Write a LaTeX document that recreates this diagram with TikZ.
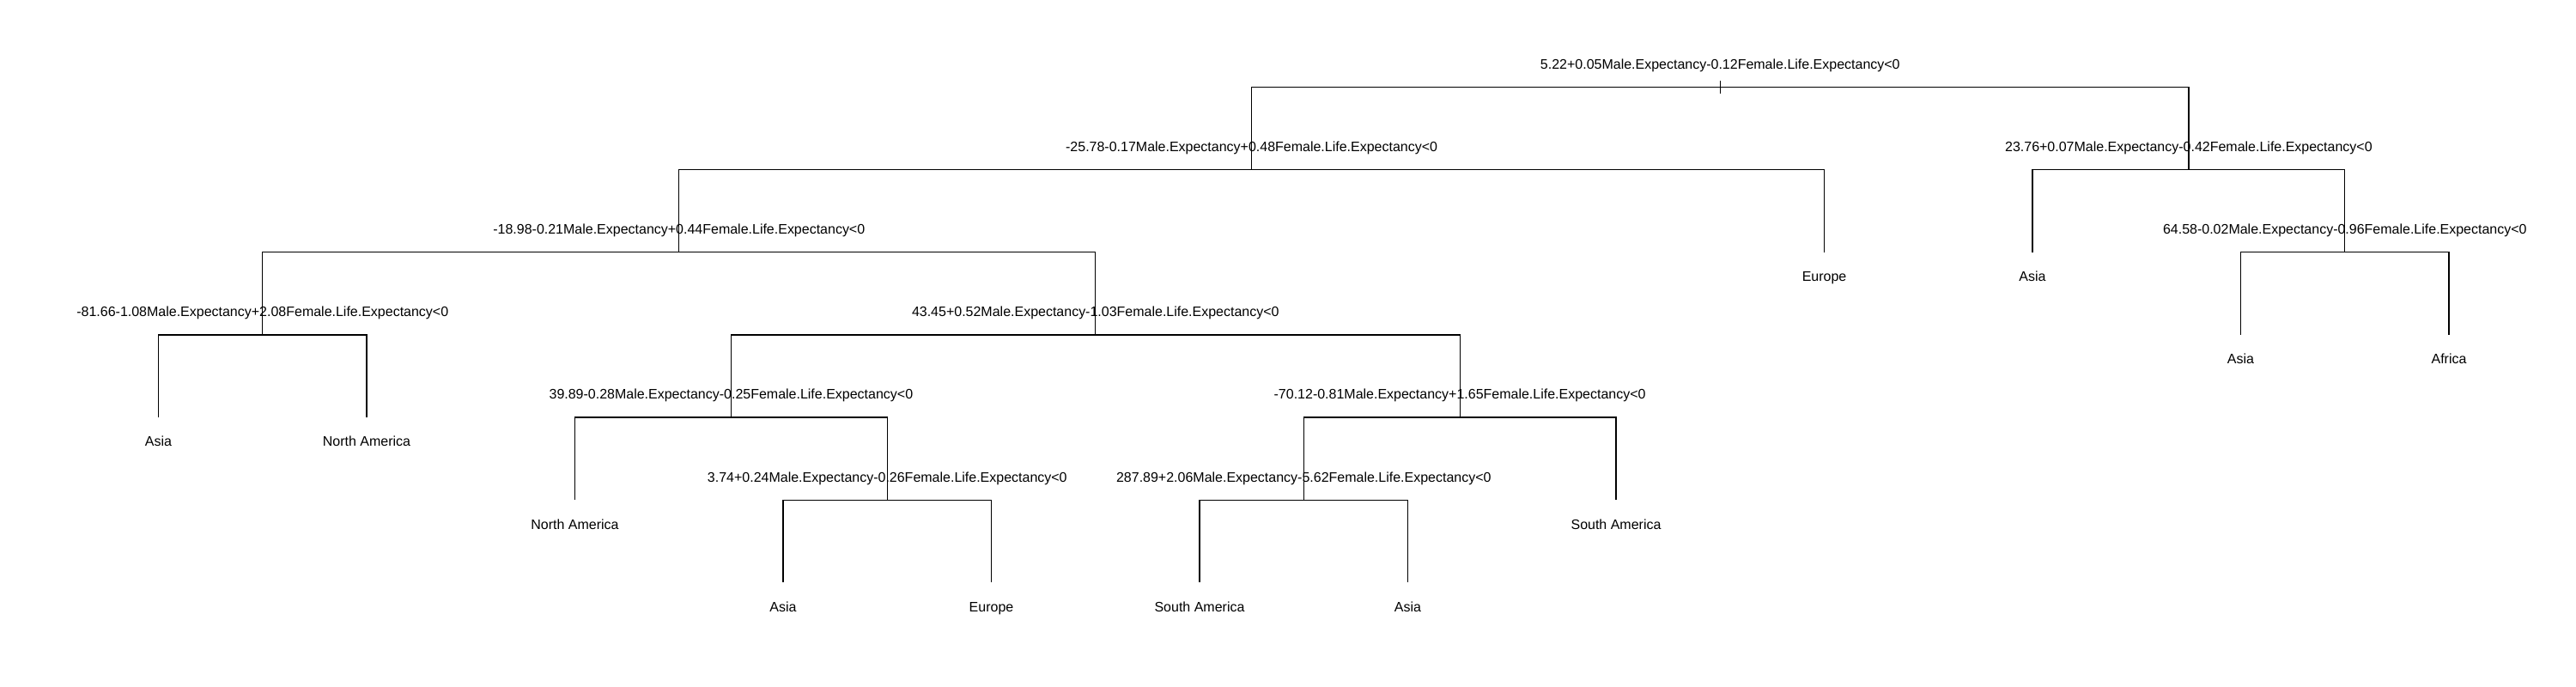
\documentclass[tikz,border=0pt]{standalone}
\usepackage{fontspec}
\setmainfont{Liberation Sans}

\begin{document}
\begin{tikzpicture}[
    branch/.style={line width=0.35pt},
    split/.style={anchor=base, inner sep=0pt, yshift=0.21cm, font=\fontsize{4.55pt}{5.5pt}\selectfont},
    leaf/.style={anchor=base, inner sep=0pt, yshift=-0.34cm, font=\fontsize{4.55pt}{5.5pt}\selectfont}]
    \useasboundingbox (0,0) rectangle (30,8);

    % Split points
    \coordinate (root) at (20.033,6.985);
    \coordinate (n1) at (14.576,6.024);
    \coordinate (n2) at (25.489,6.024);
    \coordinate (n3) at (7.908,5.062);
    \coordinate (n4) at (27.308,5.062);
    \coordinate (n5) at (3.058,4.101);
    \coordinate (n6) at (12.758,4.101);
    \coordinate (n7) at (8.514,3.140);
    \coordinate (n8) at (17.001,3.140);
    \coordinate (n9) at (10.333,2.178);
    \coordinate (n10) at (15.183,2.178);

    % Leaf ends
    \coordinate (l1) at (1.845,3.140);
    \coordinate (l2) at (4.270,3.140);
    \coordinate (l3) at (6.695,2.178);
    \coordinate (l4) at (9.120,1.217);
    \coordinate (l5) at (11.545,1.217);
    \coordinate (l6) at (13.970,1.217);
    \coordinate (l7) at (16.395,1.217);
    \coordinate (l8) at (18.820,2.178);
    \coordinate (l9) at (21.245,5.062);
    \coordinate (l10) at (23.670,5.062);
    \coordinate (l11) at (26.095,4.101);
    \coordinate (l12) at (28.520,4.101);

    % Branches
    \draw[branch] (root) -| (n1);
    \draw[branch] (root) -| (n2);
    \draw[branch] (root) ++(0,0.075) -- ++(0,-0.15);
    \draw[branch] (n1) -| (n3);
    \draw[branch] (n1) -| (l9);
    \draw[branch] (n2) -| (l10);
    \draw[branch] (n2) -| (n4);
    \draw[branch] (n3) -| (n5);
    \draw[branch] (n3) -| (n6);
    \draw[branch] (n4) -| (l11);
    \draw[branch] (n4) -| (l12);
    \draw[branch] (n5) -| (l1);
    \draw[branch] (n5) -| (l2);
    \draw[branch] (n6) -| (n7);
    \draw[branch] (n6) -| (n8);
    \draw[branch] (n7) -| (l3);
    \draw[branch] (n7) -| (n9);
    \draw[branch] (n8) -| (n10);
    \draw[branch] (n8) -| (l8);
    \draw[branch] (n9) -| (l4);
    \draw[branch] (n9) -| (l5);
    \draw[branch] (n10) -| (l6);
    \draw[branch] (n10) -| (l7);

    % Split labels
    \node[split] (t0) at (root) {5.22+0.05Male.Expectancy-0.12Female.Life.Expectancy<0};
    \node[split] (t1) at (n1) {-25.78-0.17Male.Expectancy+0.48Female.Life.Expectancy<0};
    \node[split] (t2) at (n2) {23.76+0.07Male.Expectancy-0.42Female.Life.Expectancy<0};
    \node[split] (t3) at (n3) {-18.98-0.21Male.Expectancy+0.44Female.Life.Expectancy<0};
    \node[split] (t4) at (n4) {64.58-0.02Male.Expectancy-0.96Female.Life.Expectancy<0};
    \node[split] (t5) at (n5) {-81.66-1.08Male.Expectancy+2.08Female.Life.Expectancy<0};
    \node[split] (t6) at (n6) {43.45+0.52Male.Expectancy-1.03Female.Life.Expectancy<0};
    \node[split] (t7) at (n7) {39.89-0.28Male.Expectancy-0.25Female.Life.Expectancy<0};
    \node[split] (t8) at (n8) {-70.12-0.81Male.Expectancy+1.65Female.Life.Expectancy<0};
    \node[split] (t9) at (n9) {3.74+0.24Male.Expectancy-0.26Female.Life.Expectancy<0};
    \node[split] (t10) at (n10) {287.89+2.06Male.Expectancy-5.62Female.Life.Expectancy<0};

    % Leaf labels
    \node[leaf] (a1) at (l1) {Asia};
    \node[leaf] (a2) at (l2) {North America};
    \node[leaf] (a3) at (l3) {North America};
    \node[leaf] (a4) at (l4) {Asia};
    \node[leaf] (a5) at (l5) {Europe};
    \node[leaf] (a6) at (l6) {South America};
    \node[leaf] (a7) at (l7) {Asia};
    \node[leaf] (a8) at (l8) {South America};
    \node[leaf] (a9) at (l9) {Europe};
    \node[leaf] (a10) at (l10) {Asia};
    \node[leaf] (a11) at (l11) {Asia};
    \node[leaf] (a12) at (l12) {Africa};
\end{tikzpicture}
\end{document}
